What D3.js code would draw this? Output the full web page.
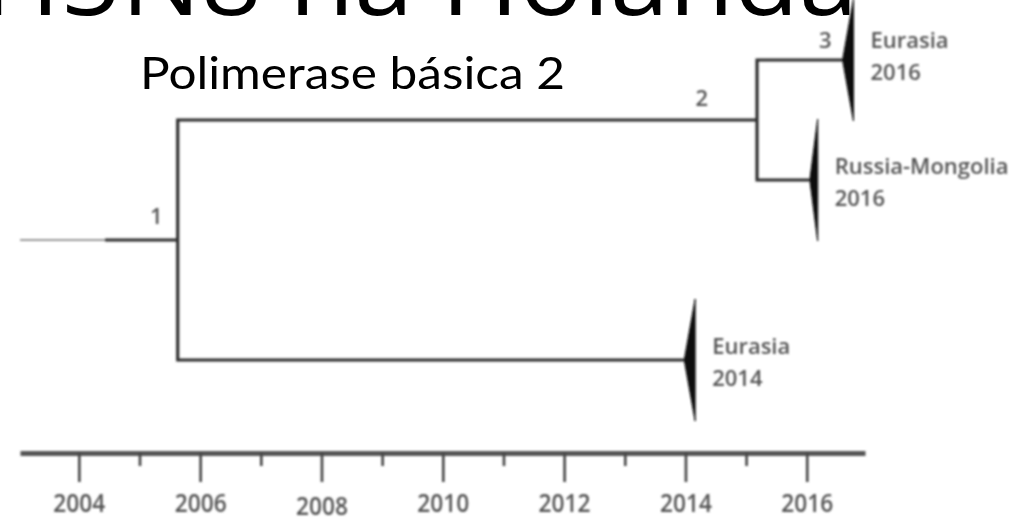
<!DOCTYPE html>
<html>
<head>
<meta charset="utf-8">
<script src="https://cdn.jsdelivr.net/npm/d3@7"></script>
<style>
  html, body { margin: 0; padding: 0; background: #fff; }
  svg { display: block; }
</style>
</head>
<body>
<svg id="chart" width="1030" height="523"></svg>
<script>
// ---- Time axis ----
const tickYears  = [2004, 2005, 2006, 2007, 2008, 2009, 2010, 2011, 2012, 2013, 2014, 2015, 2016];
const tickLabels = ["2004", "", "2006", "", "2008", "", "2010", "", "2012", "", "2014", "", "2016"];
const axisStartYear = 2003.03;
const axisEndYear   = 2016.96;

// ---- Dated internal nodes of the PB2 tree (decimal years) ----
const rootYear = 2003.03;
const stemYear = 2004.43;
const nodeIds     = ["n1", "n2"];
const nodeParents = ["root", "n1"];
const nodeYears   = [2005.63, 2015.18];
const nodeLabels  = ["1", "2"];

// ---- Collapsed clades ----
const cladeRegions   = ["Eurasia", "Russia-Mongolia", "Eurasia"];
const cladeYears     = ["2016", "2016", "2014"];
const cladeParents   = ["n2", "n2", "n1"];
const cladeTipYears  = [2016.59, 2016.05, 2013.98];
const cladeBaseYears = [2016.77, 2016.18, 2014.16];
const cladeOrder     = [0, 1, 2.5];
const cladeLabels    = ["3", "", ""];

// ---- Titles ----
const titleText    = "H5N8 na Holanda";
const subtitleText = "Polimerase básica 2";

const svg = d3.select("#chart");

svg.append("defs").append("filter")
  .attr("id", "soft")
  .attr("x", "-5%").attr("y", "-5%").attr("width", "110%").attr("height", "110%")
  .append("feGaussianBlur").attr("stdDeviation", 0.8);

const x = d3.scaleLinear().domain([axisStartYear, axisEndYear]).range([20, 865]);
const y = d3.scaleLinear().domain([0, 1]).range([60, 180]);

// Build the tree table and let d3.stratify link it up
const table = [{ id: "root", parentId: null, year: rootYear }];
nodeIds.forEach((id, i) => table.push({ id, parentId: nodeParents[i], year: nodeYears[i], label: nodeLabels[i] }));
cladeRegions.forEach((r, i) => table.push({
  id: "c" + i, parentId: cladeParents[i], year: cladeTipYears[i], base: cladeBaseYears[i],
  region: r, when: cladeYears[i], order: cladeOrder[i], label: cladeLabels[i], clade: true
}));

const root = d3.stratify().id(d => d.id).parentId(d => d.parentId)(table);
// children in drawing order (top to bottom)
function pos(n) { return n.data.clade ? n.data.order : d3.min(n.leaves(), l => l.data.order); }
root.each(n => { if (n.children) n.children.sort((a, b) => pos(a) - pos(b)); });

root.eachAfter(n => {
  n.px = x(n.data.year);
  if (n.data.clade) n.py = y(n.data.order);
  else n.py = d3.mean([n.children[0].py, n.children[n.children.length - 1].py]);
});

const tree = svg.append("g").attr("filter", "url(#soft)");
const ink = "#2e2e2e";

// Branches (elbow links)
const links = root.links().filter(l => l.source !== root);
tree.selectAll("path.branch")
  .data(links)
  .join("path")
  .attr("class", "branch")
  .attr("fill", "none")
  .attr("stroke", ink)
  .attr("stroke-width", 3.2)
  .attr("d", l => `M${l.source.px},${l.source.py}V${l.target.py}H${l.target.px}`);

// Root stem: faint lead-in, then solid to node 1
const first = root.children[0];
tree.append("line")
  .attr("x1", x(rootYear)).attr("x2", x(stemYear))
  .attr("y1", first.py).attr("y2", first.py)
  .attr("stroke", "#777").attr("stroke-width", 1.6);
tree.append("line")
  .attr("x1", x(stemYear)).attr("x2", first.px)
  .attr("y1", first.py).attr("y2", first.py)
  .attr("stroke", ink).attr("stroke-width", 3.2);

// Collapsed clade wedges
const halfSpan = 61;
const clades = root.leaves();
tree.selectAll("path.clade")
  .data(clades)
  .join("path")
  .attr("class", "clade")
  .attr("fill", "#111")
  .attr("stroke", "#111")
  .attr("stroke-width", 1)
  .attr("d", n => `M${n.px},${n.py}L${x(n.data.base)},${n.py - halfSpan}L${x(n.data.base)},${n.py + halfSpan}Z`);

// Clade names
const labelFont = "'Open Sans', sans-serif";
const nudge = { c0: -6 };
const cl = tree.selectAll("g.cl")
  .data(clades)
  .join("g")
  .attr("class", "cl")
  .attr("transform", n => `translate(${x(n.data.base) + 17},${n.py + (nudge[n.data.id] || 0)})`)
  .style("font-family", labelFont)
  .style("font-size", "22px")
  .style("font-weight", 600)
  .attr("fill", "#555");
cl.append("text").attr("y", -6).text(n => n.data.region);
cl.append("text").attr("y", 26).text(n => n.data.when);

// Branch numbers
const numOffset = { "1": [15, 16], "2": [49, 14], "3": [11, 12] };
tree.selectAll("text.num")
  .data(root.descendants().filter(n => n.data.label))
  .join("text")
  .attr("class", "num")
  .attr("text-anchor", "end")
  .attr("x", n => n.px - numOffset[n.data.label][0])
  .attr("y", n => n.py - numOffset[n.data.label][1])
  .style("font-family", labelFont)
  .style("font-size", "22px")
  .style("font-weight", 600)
  .attr("fill", "#555")
  .text(n => n.data.label);

// Time axis
const axisG = tree.append("g")
  .attr("transform", "translate(0,453)")
  .call(d3.axisBottom(x)
    .tickValues(tickYears)
    .tickFormat((d, i) => tickLabels[i])
    .tickSize(29)
    .tickSizeOuter(0));
axisG.select(".domain").attr("stroke", "#555").attr("stroke-width", 5);
axisG.selectAll(".tick line")
  .attr("stroke", "#444")
  .attr("stroke-width", 2.6)
  .attr("y2", (d, i) => tickLabels[i] ? 29 : 13);
axisG.selectAll(".tick text")
  .attr("fill", "#555")
  .attr("dy", 0)
  .attr("y", d => d === 2008 ? 62 : 59)
  .attr("textLength", 52)
  .attr("lengthAdjust", "spacingAndGlyphs")
  .style("font-family", "'Open Sans', sans-serif")
  .style("font-weight", 600)
  .style("font-size", "26px");

// Titles
svg.append("text")
  .attr("x", -18).attr("y", 15)
  .attr("textLength", 876)
  .attr("lengthAdjust", "spacingAndGlyphs")
  .style("font-family", "'Open Sans', sans-serif")
  .style("font-size", "100px")
  .attr("fill", "#000")
  .text(titleText);

svg.append("text")
  .attr("x", 140).attr("y", 89)
  .attr("textLength", 425)
  .attr("lengthAdjust", "spacingAndGlyphs")
  .style("font-family", "Lato, sans-serif")
  .style("font-size", "44px")
  .attr("fill", "#000")
  .text(subtitleText);
</script>
</body>
</html>
